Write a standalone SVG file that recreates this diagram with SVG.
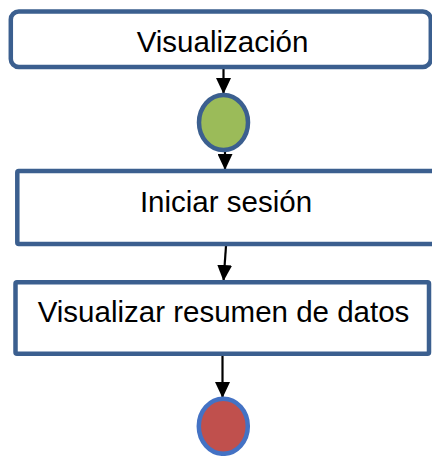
<svg xmlns="http://www.w3.org/2000/svg" width="432" height="456" viewBox="0 0 432 456">
<style>
.box{fill:#fff;stroke:#3b5f8f;stroke-width:4.5}
.lbl{font-family:"Liberation Sans",Arial,sans-serif;font-size:29.5px;fill:#000;text-anchor:middle}
.con{stroke:#000;stroke-width:2.2;fill:none}
</style>
<defs>
<marker id="ah" viewBox="0 0 16 15" refX="16" refY="7.5" markerWidth="16" markerHeight="15" markerUnits="userSpaceOnUse" orient="auto">
<path d="M0,0 L16,7.5 L0,15 Z" fill="#000"/>
</marker>
</defs>
<rect width="432" height="456" fill="#fff"/>
<g id="connectors">
<line class="con" x1="223.5" y1="69" x2="223.5" y2="94" marker-end="url(#ah)"/>
<line class="con" x1="225" y1="152" x2="225" y2="170" marker-end="url(#ah)"/>
<line class="con" x1="226" y1="246" x2="223.5" y2="281" marker-end="url(#ah)"/>
<line class="con" x1="222.5" y1="356" x2="222.5" y2="398" marker-end="url(#ah)"/>
</g>
<g id="n1">
<rect class="box" x="10.8" y="11.5" width="420" height="55.5" rx="8"/>
<text class="lbl" x="222.5" y="52">Visualización</text>
</g>
<g id="n2">
<ellipse cx="223.5" cy="122.5" rx="24.5" ry="27.5" fill="#9bbb59" stroke="#3b5f8f" stroke-width="4.5"/>
</g>
<g id="n3">
<rect class="box" x="17.3" y="171" width="430" height="73" rx="1.5"/>
<text class="lbl" x="226" y="212">Iniciar sesión</text>
</g>
<g id="n4">
<rect class="box" x="15.5" y="282.3" width="413.5" height="71.5" rx="1.5"/>
<text class="lbl" x="223.5" y="322">Visualizar resumen de datos</text>
</g>
<g id="n5">
<ellipse cx="223.3" cy="426.3" rx="24.5" ry="27.5" fill="#c0504d" stroke="#4472c4" stroke-width="4.5"/>
</g>
</svg>
